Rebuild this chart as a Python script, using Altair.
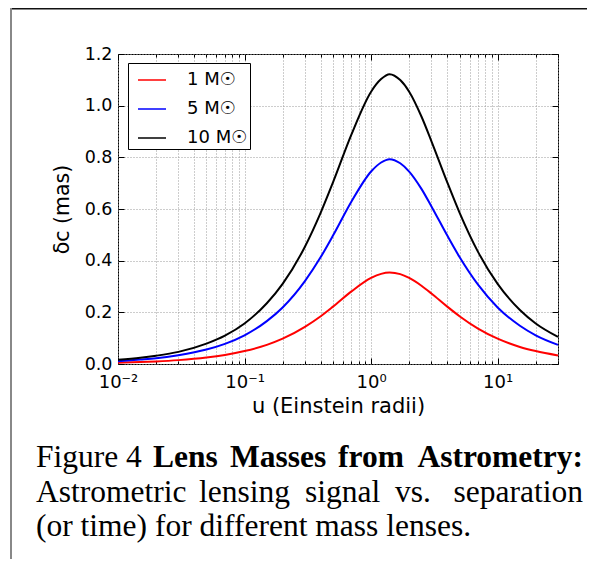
import altair as alt
import pandas as pd

# ---- data ----
u = [0.01, 0.015, 0.02, 0.03, 0.05, 0.07, 0.1, 0.15, 0.2, 0.3, 0.4, 0.5, 0.7,
     1.0, 1.2, 1.4, 1.7, 2.0, 2.5, 3.0, 4.0, 5.0, 7.0, 10.0, 15.0, 20.0, 30.0]
delta_1 = [0.005, 0.0075, 0.010, 0.015, 0.025, 0.035, 0.050, 0.074, 0.098, 0.144, 0.185, 0.222, 0.281,
           0.333, 0.349, 0.354, 0.348, 0.333, 0.303, 0.273, 0.222, 0.185, 0.137, 0.098, 0.066, 0.050, 0.033]
delta_5 = [0.011, 0.017, 0.022, 0.034, 0.056, 0.078, 0.111, 0.166, 0.219, 0.321, 0.414, 0.497, 0.629,
           0.745, 0.780, 0.793, 0.777, 0.745, 0.678, 0.610, 0.497, 0.414, 0.307, 0.219, 0.148, 0.111, 0.074]
delta_10 = [0.016, 0.024, 0.032, 0.047, 0.079, 0.110, 0.157, 0.235, 0.310, 0.454, 0.586, 0.703, 0.889,
            1.054, 1.103, 1.122, 1.099, 1.054, 0.958, 0.862, 0.703, 0.586, 0.434, 0.310, 0.209, 0.157, 0.105]
mass_labels = ["1 M\u2609", "5 M\u2609", "10 M\u2609"]
mass_colors = ["#ff0000", "#0000ff", "#000000"]

x_major = [0.01, 0.1, 1, 10]
x_major_labels = ["10\u207b\u00b2", "10\u207b\u00b9", "10\u2070", "10\u00b9"]
x_minor = [0.02, 0.03, 0.04, 0.05, 0.06, 0.07, 0.08, 0.09,
           0.2, 0.3, 0.4, 0.5, 0.6, 0.7, 0.8, 0.9,
           2, 3, 4, 5, 6, 7, 8, 9, 20, 30]
y_ticks = [0.0, 0.2, 0.4, 0.6, 0.8, 1.0, 1.2]

x_title = "u (Einstein radii)"
y_title = "\u03b4c (mas)"

# caption words (text, weight)
caption_line1 = [("Figure 4", "normal"), ("Lens", "bold"), ("Masses", "bold"),
                 ("from", "bold"), ("Astrometry:", "bold")]
caption_line2 = [("Astrometric", "normal"), ("lensing", "normal"), ("signal", "normal"),
                 ("vs.", "normal"), ("separation", "normal")]
caption_line3 = [("(or time) for different mass lenses.", "normal")]

rows = []
for name, vals in zip(mass_labels, [delta_1, delta_5, delta_10]):
    for uu, d in zip(u, vals):
        rows.append({"u": uu, "delta": d, "mass": name})
df = pd.DataFrame(rows)

W, H = 440, 310
SANS = "DejaVu Sans"
SERIF = "Liberation Serif"

xscale = alt.Scale(type="log", domain=[0.01, 30], nice=False)
yscale = alt.Scale(domain=[0, 1.2], nice=False)

label_expr = " : ".join(
    f"datum.value == {v} ? '{t}'" for v, t in zip(x_major, x_major_labels)
) + " : ''"

grid_kw = dict(grid=True, gridColor="#9a9a9a", gridDash=[1, 2], gridWidth=1)

x_main = alt.Axis(orient="bottom", values=x_major + x_minor, labelExpr=label_expr,
                  ticks=False, domain=False, labelFont=SANS, labelFontSize=18,
                  labelColor="black", labelPadding=9, labelOverlap=False, labelFlush=False,
                  title=x_title, titleFont=SANS, titleFontSize=21, titleFontWeight="normal",
                  titleColor="black", titlePadding=4, **grid_kw)
y_main = alt.Axis(orient="left", values=y_ticks, format=".1f", ticks=False, domain=False,
                  labelFont=SANS, labelFontSize=17.5, labelColor="black", labelPadding=6,
                  labelOverlap=False, labelFlush=False,
                  title=y_title, titleFont=SANS, titleFontSize=20.5, titleFontWeight="normal",
                  titleColor="black", titlePadding=12, **grid_kw)

lines = alt.Chart(df).mark_line(strokeWidth=2, interpolate="monotone").encode(
    x=alt.X("u:Q", scale=xscale, axis=x_main),
    y=alt.Y("delta:Q", scale=yscale, axis=y_main),
    color=alt.Color("mass:N", sort=mass_labels,
                    scale=alt.Scale(domain=mass_labels, range=mass_colors),
                    legend=alt.Legend(orient="none", legendX=10, legendY=9, title=None,
                                      symbolType="stroke", symbolSize=784, symbolStrokeWidth=1.5,
                                      symbolOffset=7, labelOffset=20,
                                      labelFont=SANS, labelFontSize=18, labelColor="black",
                                      strokeColor="black", fillColor="white",
                                      padding=2, rowPadding=5)),
)


def tick_axis(orient, offset, values, size):
    return alt.Axis(orient=orient, offset=offset, values=values, tickSize=size,
                    tickColor="black", tickWidth=1, labels=False, domain=False,
                    grid=False, title=None)


def tick_layer(xaxis, yaxis):
    return alt.Chart(df).mark_line(opacity=0).encode(
        x=alt.X("u:Q", scale=xscale, axis=xaxis),
        y=alt.Y("delta:Q", scale=yscale, axis=yaxis),
        detail="mass:N",
    )


t1 = tick_layer(tick_axis("top", -H, x_major, 6), tick_axis("right", -W, y_ticks, 6))
t2 = tick_layer(tick_axis("top", -H, x_minor, 3), tick_axis("left", -W, y_ticks, 6))
t3 = tick_layer(tick_axis("bottom", -H, x_major, 6), None)
t4 = tick_layer(tick_axis("bottom", -H, x_minor, 3), None)


def text_layer(txt, x, y, align, weight):
    return alt.Chart(pd.DataFrame({"t": [txt]})).mark_text(
        align=align, baseline="alphabetic", font=SERIF, fontSize=31.5,
        fontWeight=weight, color="black"
    ).encode(x=alt.value(x), y=alt.value(y), text="t:N")


# word placement of the justified caption (left edges; last word right-aligned)
line1_x = [-82, 35, 112, 220, 465]
line2_x = [-82, 81, 187, 277, 465]
cap = []
for words, xs, yb in [(caption_line1, line1_x, 413), (caption_line2, line2_x, 447.5),
                      (caption_line3, [-82], 482)]:
    for i, ((txt, wt), xx) in enumerate(zip(words, xs)):
        align = "right" if (i == len(words) - 1 and len(words) > 1) else "left"
        cap.append(text_layer(txt, xx, yb, align, wt))

frame_top = alt.Chart(pd.DataFrame({"a": [0]})).mark_rule(color="#111", strokeWidth=1.5).encode(
    x=alt.value(-108), x2=alt.value(W + 30), y=alt.value(-45.2))
frame_left = alt.Chart(pd.DataFrame({"a": [0]})).mark_rule(color="#888", strokeWidth=2).encode(
    x=alt.value(-107), y=alt.value(-46), y2=alt.value(H + 200))

chart = alt.layer(t1, t2, t3, t4, lines, *cap, frame_top, frame_left).resolve_axis(
    x="independent", y="independent"
).properties(
    width=W, height=H,
    autosize=alt.AutoSizeParams(type="none"),
    padding={"left": 110, "top": 46, "right": 29, "bottom": 195},
    background="white",
).configure_view(stroke="black", strokeWidth=1)

chart.save("out.html", embed_options={"renderer": "svg", "actions": False})
